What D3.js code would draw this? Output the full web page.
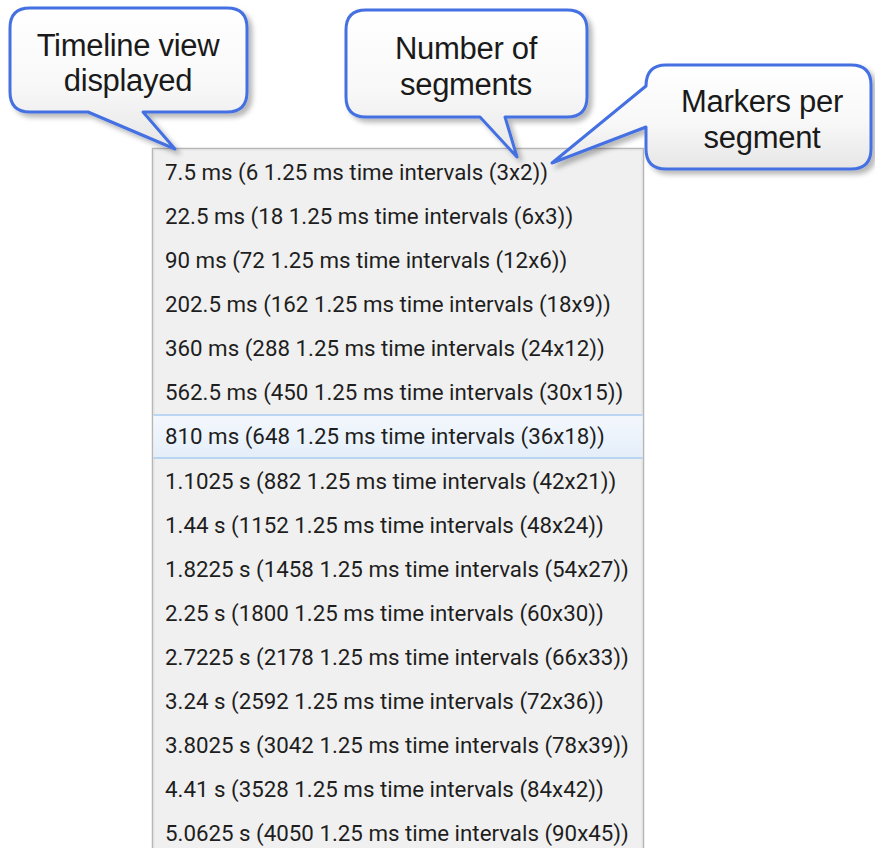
<!DOCTYPE html>
<html>
<head>
<meta charset="utf-8">
<script src="https://cdn.jsdelivr.net/npm/d3@7/dist/d3.min.js"></script>
<style>
html,body{margin:0;padding:0;background:#fff;}
svg{display:block;}
</style>
</head>
<body>
<svg id="chart" width="875" height="848"></svg>
<script>
// ---- data ----
const durations = ["7.5 ms","22.5 ms","90 ms","202.5 ms","360 ms","562.5 ms","810 ms","1.1025 s","1.44 s","1.8225 s","2.25 s","2.7225 s","3.24 s","3.8025 s","4.41 s","5.0625 s"];
const intervals = [6,18,72,162,288,450,648,882,1152,1458,1800,2178,2592,3042,3528,4050];
const segments = [3,6,12,18,24,30,36,42,48,54,60,66,72,78,84,90];
const markers = [2,3,6,9,12,15,18,21,24,27,30,33,36,39,42,45];
const intervalLength = "1.25 ms";
const selectedIndex = 6;
const calloutLabels = [["Timeline view","displayed"],["Number of","segments"],["Markers per","segment"]];

const labels = durations.map((d,i)=>`${d} (${intervals[i]} ${intervalLength} time intervals (${segments[i]}x${markers[i]}))`);

const svg = d3.select("#chart");
const defs = svg.append("defs");

const grad = defs.append("linearGradient").attr("id","cg").attr("x1",0).attr("y1",0).attr("x2",0).attr("y2",1);
grad.append("stop").attr("offset","0%").attr("stop-color","#ffffff");
grad.append("stop").attr("offset","55%").attr("stop-color","#f8f8f8");
grad.append("stop").attr("offset","100%").attr("stop-color","#e6e6e6");

const hg = defs.append("linearGradient").attr("id","hg").attr("x1",0).attr("y1",0).attr("x2",0).attr("y2",1);
hg.append("stop").attr("offset","0%").attr("stop-color","#f4f8fd");
hg.append("stop").attr("offset","100%").attr("stop-color","#e4eef9");

const sh = defs.append("filter").attr("id","sh").attr("x","-10%").attr("y","-10%").attr("width","130%").attr("height","140%");
sh.append("feDropShadow").attr("dx",4).attr("dy",4).attr("stdDeviation",2.5).attr("flood-color","#000").attr("flood-opacity",0.28);

// ---- list box ----
const boxX0 = 152, boxX1 = 643, boxY0 = 148;
const y = d3.scaleBand().domain(d3.range(labels.length)).range([150, 150 + labels.length*44.07]).padding(0);

svg.append("rect").attr("x",boxX0+0.5).attr("y",boxY0+0.5).attr("width",boxX1-boxX0).attr("height",760)
  .attr("fill","#f0f0f0").attr("stroke","#b6b6b6").attr("stroke-width",1.5);
svg.append("rect").attr("x",boxX0+2).attr("y",boxY0+2).attr("width",boxX1-boxX0-3).attr("height",760)
  .attr("fill","none").attr("stroke","#e2e2e2").attr("stroke-width",1);

// selected row
const sy = y(selectedIndex);
svg.append("rect").attr("x",boxX0+1.5).attr("y",sy+0.5).attr("width",boxX1-boxX0-2).attr("height",y.bandwidth()-1)
  .attr("fill","url(#hg)");
[sy+0.5, sy+y.bandwidth()-0.5].forEach(v=>{
  svg.append("line").attr("x1",boxX0+1.5).attr("x2",boxX1-0.5).attr("y1",v).attr("y2",v)
    .attr("stroke","#a9cdef").attr("stroke-width",1.5);
});

svg.append("g").selectAll("text").data(labels).join("text")
  .attr("x",165)
  .attr("y",(d,i)=>y(i)+y.bandwidth()/2+8)
  .attr("font-family","Roboto, 'Noto Sans', sans-serif")
  .attr("font-size",22.3)
  .attr("fill","#1e1e1e")
  .text(d=>d);

// ---- callouts ----
function bubbleBottom(x0,y0,x1,y1,r,tl,tr,tip){
  return `M${x0+r},${y0} H${x1-r} Q${x1},${y0} ${x1},${y0+r} V${y1-r} Q${x1},${y1} ${x1-r},${y1} H${tr} L${tip[0]},${tip[1]} L${tl},${y1} H${x0+r} Q${x0},${y1} ${x0},${y1-r} V${y0+r} Q${x0},${y0} ${x0+r},${y0} Z`;
}
function bubbleLeft(x0,y0,x1,y1,r,tu,tb,tip){
  return `M${x0+r},${y0} H${x1-r} Q${x1},${y0} ${x1},${y0+r} V${y1-r} Q${x1},${y1} ${x1-r},${y1} H${x0+r} Q${x0},${y1} ${x0},${y1-r} V${tb} L${tip[0]},${tip[1]} L${x0},${tu} Q${x0},${y0} ${x0+r},${y0} Z`;
}
const callouts = [
  {path: bubbleBottom(10,8,247,112,20,88,143,[175,149]), cx:128, cy:[45,80]},
  {path: bubbleBottom(346,10,587,117,20,480,505,[517,157]), cx:466, cy:[48,84]},
  {path: bubbleLeft(646,65,871,169,20,86,127,[552,163]), cx:762, cy:[101,137]}
];
const cg = svg.append("g");
callouts.forEach((c,i)=>{
  cg.append("path").attr("d",c.path).attr("fill","url(#cg)").attr("stroke","#4470e2").attr("stroke-width",3)
    .attr("stroke-linejoin","round").attr("filter","url(#sh)");
  calloutLabels[i].forEach((t,j)=>{
    cg.append("text").attr("x",c.cx).attr("y",c.cy[j]+11).attr("text-anchor","middle")
      .attr("font-family","'Liberation Sans', Arial, sans-serif").attr("font-size",31)
      .attr("letter-spacing",-0.3)
      .attr("fill","#1a1a1a").text(t);
  });
});
</script>
</body>
</html>
